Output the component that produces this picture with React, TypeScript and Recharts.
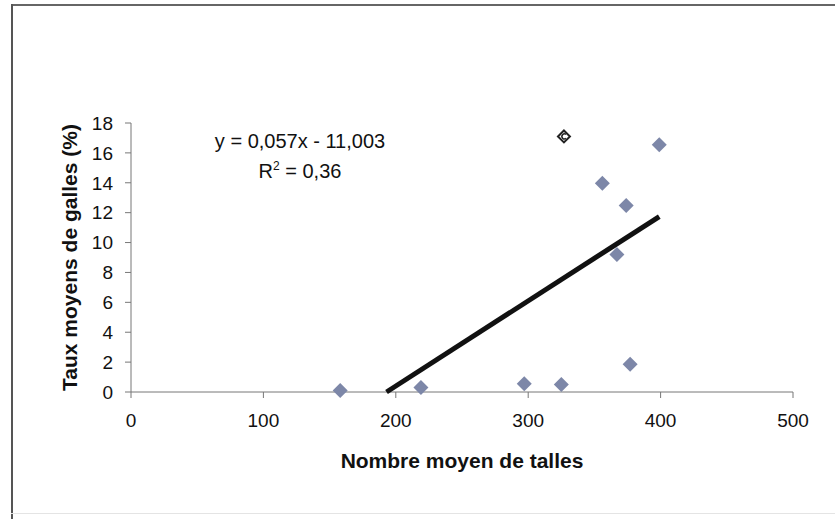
import React from 'react';
import { ScatterChart, Scatter, XAxis, YAxis } from 'recharts';

// tillers (x) vs gall rate (y)
const tillers = [158, 219, 297, 325, 377, 356, 374, 367, 399];
const gallRate = [0.1, 0.3, 0.55, 0.5, 1.85, 13.97, 12.48, 9.2, 16.55];

// the odd point drawn with an open marker
const outlierX = [327];
const outlierY = [17.1];

// linear trend end points (clipped at y = 0)
const trendX = [193, 399];
const trendY = [0, 11.74];

const xTicks = [0, 100, 200, 300, 400, 500];
const yTicks = [0, 2, 4, 6, 8, 10, 12, 14, 16, 18];

const points = tillers.map((x, i) => ({ x, y: gallRate[i] }));
const outlier = outlierX.map((x, i) => ({ x, y: outlierY[i] }));
const trend = trendX.map((x, i) => ({ x, y: trendY[i] }));

const FONT = '"Liberation Sans", Arial, sans-serif';

const Diamond = (props: any) => {
  const { cx, cy } = props;
  const r = 7.5;
  return (
    <path
      d={`M${cx},${cy - r} L${cx + r},${cy} L${cx},${cy + r} L${cx - r},${cy} Z`}
      fill="#7d87a8"
    />
  );
};

const OpenDiamond = (props: any) => {
  const { cx, cy } = props;
  const r = 6;
  return (
    <g>
      <path
        d={`M${cx},${cy - r} L${cx + r},${cy} L${cx},${cy + r} L${cx - r},${cy} Z`}
        fill="#fff"
        stroke="#222"
        strokeWidth={2}
      />
      <path d={`M${cx + 2},${cy - 2} A2.5,2.5 0 1 0 ${cx + 2},${cy + 2}`} fill="none" stroke="#222" strokeWidth={1.5} />
    </g>
  );
};

const XTitle = (props: any) => {
  const vb = props.viewBox;
  return (
    <text x={vb.x + vb.width / 2} y={vb.y + vb.height + 36} textAnchor="middle" fontFamily={FONT} fontWeight="bold" fontSize={21} fill="#111">
      Nombre moyen de talles
    </text>
  );
};

const YTitle = (props: any) => {
  const vb = props.viewBox;
  const cx = vb.x + 18;
  const cy = vb.y + vb.height / 2;
  return (
    <text x={cx} y={cy} transform={`rotate(-90, ${cx}, ${cy})`} textAnchor="middle" dominantBaseline="central" fontFamily={FONT} fontWeight="bold" fontSize={21} fill="#111">
      Taux moyens de galles (%)
    </text>
  );
};

export default function App() {
  return (
    <div style={{ position: 'absolute', left: 0, top: 0, width: 835, height: 519, background: '#fff', overflow: 'hidden' }}>
      {/* frame */}
      <div style={{ position: 'absolute', left: 11, top: 4, width: 830, height: 2, background: '#666' }} />
      <div style={{ position: 'absolute', left: 11, top: 4, width: 2, height: 515, background: '#555' }} />
      <div style={{ position: 'absolute', left: 11, top: 513, width: 830, height: 1, background: '#e4e4e4' }} />

      <ScatterChart width={835} height={519} margin={{ top: 123, right: 42, left: 51, bottom: 87 }}>
        <XAxis
          type="number"
          dataKey="x"
          domain={[0, 500]}
          ticks={xTicks}
          height={40}
          stroke="#777"
          tickSize={6}
          tickMargin={16}
          tick={{ fontSize: 19, fill: '#111', fontFamily: FONT }}
          label={<XTitle />}
        />
        <YAxis
          type="number"
          dataKey="y"
          domain={[0, 18]}
          ticks={yTicks}
          width={80}
          stroke="#777"
          tickSize={6}
          tickMargin={12}
          tick={{ fontSize: 19, fill: '#111', fontFamily: FONT }}
          label={<YTitle />}
        />
        <Scatter data={trend} line={{ stroke: '#111', strokeWidth: 5 }} shape={() => <g />} isAnimationActive={false} />
        <Scatter data={points} shape={<Diamond />} isAnimationActive={false} />
        <Scatter data={outlier} shape={<OpenDiamond />} isAnimationActive={false} />
      </ScatterChart>

      <div style={{ position: 'absolute', left: 200, top: 126, width: 200, textAlign: 'center', fontFamily: FONT, fontSize: 20, lineHeight: '30px', color: '#111' }}>
        <div>y = 0,057x - 11,003</div>
        <div>
          R<sup style={{ fontSize: 12, lineHeight: 0 }}>2</sup> = 0,36
        </div>
      </div>
    </div>
  );
}
